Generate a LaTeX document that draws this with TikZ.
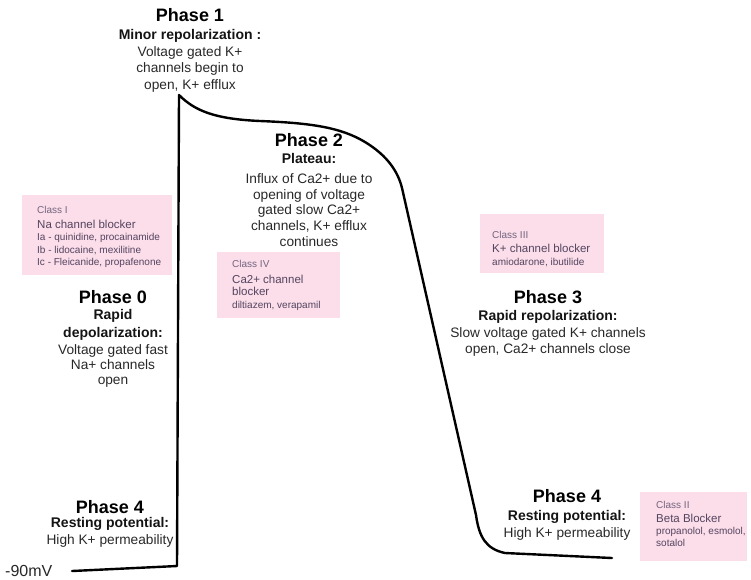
\documentclass[tikz,border=0pt]{standalone}
\usepackage{fontspec}
\setmainfont{Liberation Sans}
\usetikzlibrary{calc}
\definecolor{boxpink}{RGB}{251,222,233}
\definecolor{classtxt}{RGB}{84,68,96}
\definecolor{classhd}{RGB}{116,100,128}
\definecolor{bodytxt}{RGB}{40,40,40}
\begin{document}
\begin{tikzpicture}[x=1pt,y=-1pt,
  phtitle/.style={font=\fontsize{18}{21}\selectfont\bfseries, text=black, inner sep=0pt},
  phsub/.style={font=\fontsize{14}{#1}\selectfont\bfseries, text=black!92, inner sep=0pt, align=center},
  phsub/.default=17,
  phbody/.style={font=\fontsize{13.7}{#1}\selectfont, text=bodytxt, inner sep=0pt, align=center},
  phbody/.default=16,
  classbox/.style={fill=boxpink, draw=none, inner sep=0pt, anchor=north west},
  classtext/.style={font=\fontsize{10}{#1}\selectfont, text=classtxt, inner sep=0pt, align=left, anchor=north west},
  classtext/.default=12.5,
  trace/.style={line width=2.4pt, line join=round, line cap=round}]
\useasboundingbox (0,0) rectangle (751,579);
\newcommand{\clhead}[1]{{\color{classhd}#1}}
\newcommand{\clname}[1]{{\fontsize{11.5}{13}\selectfont #1}}

% action potential trace
\coordinate (rest0) at (72,571);
\coordinate (upst) at (177,566);
\coordinate (peak) at (179,95);
\coordinate (plat) at (260,121);
\coordinate (shoulder) at (365,142);
\coordinate (fallA) at (402,188);
\coordinate (fallB) at (476,515);
\coordinate (knee) at (505,553);
\coordinate (rest1) at (612,558);
\draw[trace] (rest0) -- (upst) -- (peak)
  .. controls (195,111) and (215,119) .. (plat)
  .. controls (310,123) and (340,127) .. (shoulder)
  .. controls (388,156) and (398,172) .. (fallA)
  -- (fallB)
  .. controls (479,537) and (486,549) .. (knee)
  -- (rest1);

\node[font=\fontsize{16}{18}\selectfont, text=bodytxt, anchor=west, inner sep=0pt] (mv) at (5,571) {-90mV};

% phase 1
\node[phtitle] (p1t) at (190,15) {Phase 1};
\node[phsub] (p1s) at (190,36) {Minor repolarization :};
\node[phbody=16.5] (p1b) at (190,69) {Voltage gated K+\\channels begin to\\open, K+ efflux};

% phase 2
\node[phtitle] (p2t) at (309,140) {Phase 2};
\node[phsub] (p2s) at (309,158) {Plateau:};
\node[phbody=15.8] (p2b) at (309,210) {Influx of Ca2+ due to\\opening of voltage\\gated slow Ca2+\\channels, K+ efflux\\continues};

% phase 0
\node[phtitle] (p0t) at (113,297) {Phase 0};
\node[phsub=18] (p0s) at (113,325) {Rapid\\depolarization:};
\node[phbody=15] (p0b) at (113,366) {Voltage gated fast\\Na+ channels\\open};

% phase 4 (left)
\node[phtitle] (p4t) at (110,507) {Phase 4};
\node[phsub] (p4s) at (110,524) {Resting potential:};
\node[phbody] (p4b) at (110,541) {High K+ permeability};

% phase 3
\node[phtitle] (p3t) at (548,297) {Phase 3};
\node[phsub] (p3s) at (548,317) {Rapid repolarization:};
\node[phbody=16] (p3b) at (548,342) {Slow voltage gated K+ channels\\open, Ca2+ channels close};

% phase 4 (right)
\node[phtitle] (q4t) at (567,496) {Phase 4};
\node[phsub] (q4s) at (567,517) {Resting potential:};
\node[phbody] (q4b) at (567,534) {High K+ permeability};

% drug classes
\node[classbox, minimum width=150pt, minimum height=80pt] (c1box) at (22,195) {};
\node[classtext] (c1) at (37,206) {\clhead{Class I}\\[2.5pt]\clname{Na channel blocker}\\Ia - quinidine, procainamide\\Ib - lidocaine, mexilitine\\Ic - Fleicanide, propafenone};

\node[classbox, minimum width=123pt, minimum height=66pt] (c4box) at (217,252) {};
\node[classtext] (c4) at (232,260) {\clhead{Class IV}\\[3.5pt]\clname{Ca2+ channel}\\\clname{blocker}\\diltiazem, verapamil};

\node[classbox, minimum width=124pt, minimum height=59pt] (c3box) at (480,214) {};
\node[classtext=13] (c3) at (492,231) {\clhead{Class III}\\[1.5pt]\clname{K+ channel blocker}\\amiodarone, ibutilide};

\node[classbox, minimum width=107pt, minimum height=69pt] (c2box) at (640,492) {};
\node[classtext=12] (c2) at (656,501) {\clhead{Class II}\\[2pt]\clname{Beta Blocker}\\propanolol, esmolol,\\sotalol};
\end{tikzpicture}
\end{document}
